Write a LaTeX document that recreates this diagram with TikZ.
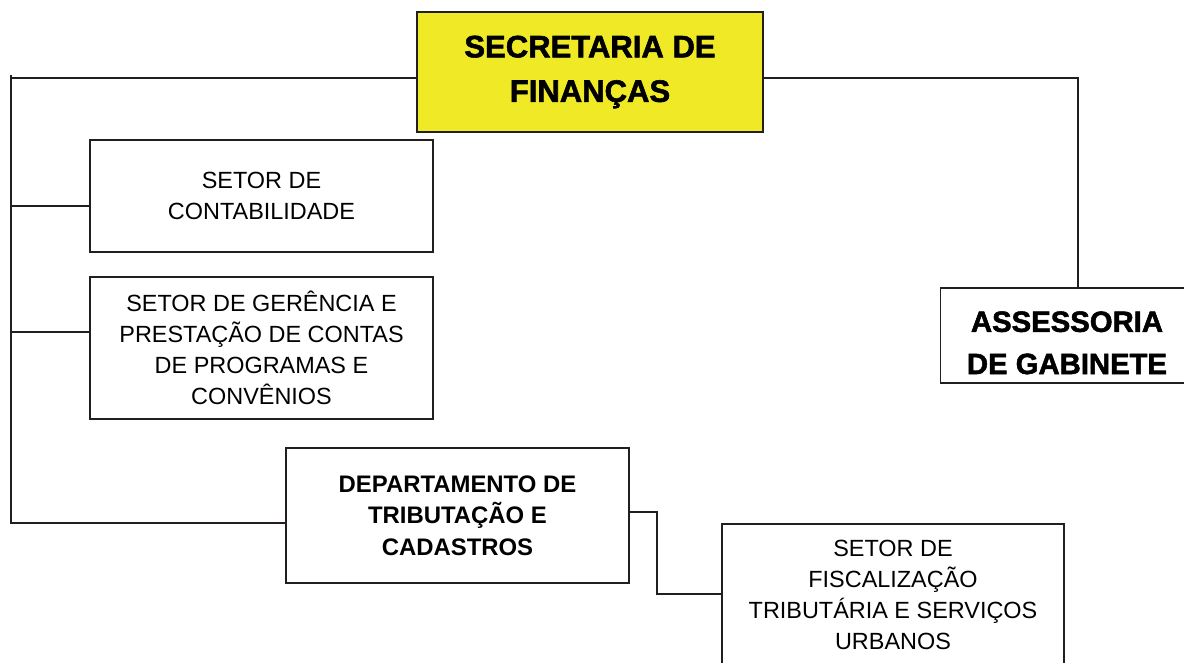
\documentclass[tikz,border=0pt]{standalone}
\usepackage{fontspec}
\setmainfont{Liberation Sans}
\newfontfamily\grossa[FakeBold=1.8]{Liberation Sans Bold}
\usetikzlibrary{positioning,calc}
\definecolor{traco}{RGB}{35,31,32}
\definecolor{amarelo}{RGB}{240,233,38}
\tikzset{
  caixa/.style={draw=traco,line width=1.3pt,align=center,inner sep=0pt,
    font=\fontsize{20}{26.5}\selectfont},
  chefe/.style={caixa,font=\fontsize{26.5}{38}\grossa},
  depto/.style={caixa,font=\fontsize{20.4}{27}\selectfont\bfseries},
  lig/.style={draw=traco,line width=1.3pt},
}

\begin{document}
\begin{tikzpicture}[x=0.03cm,y=-0.03cm]
  \clip (0,0) rectangle (1184,662);
  \fill[white] (0,0) rectangle (1184,662);
  \node[chefe,fill=amarelo,minimum width=10.38cm,minimum height=3.6cm] (sec) at (590,72)
    {SECRETARIA DE\\FINANÇAS};
  \node[caixa,minimum width=10.29cm,minimum height=3.36cm] (cont) at (261.5,196)
    {SETOR DE\\CONTABILIDADE};
  \node[caixa,minimum width=10.29cm,minimum height=4.26cm] (ger) at (261.5,348)
    {SETOR DE GERÊNCIA E\\PRESTAÇÃO DE CONTAS\\DE PROGRAMAS E\\CONVÊNIOS};
  \node[depto,minimum width=10.29cm,minimum height=4.05cm] (dep) at (457.5,515.5)
    {DEPARTAMENTO DE\\TRIBUTAÇÃO E\\CADASTROS};
  \node[chefe,font=\fontsize{25}{36}\grossa,minimum width=7.6cm,minimum height=2.85cm] (ass) at (1067,335.5)
    {\rule{0pt}{30pt}ASSESSORIA\\DE GABINETE};
  \node[caixa,minimum width=10.26cm,minimum height=4.26cm] (fisc) at (893,595)
    {SETOR DE\\FISCALIZAÇÃO\\TRIBUTÁRIA E SERVIÇOS\\URBANOS};
  \coordinate (t0) at (11,75);
  \coordinate (t1) at (11,78);
  \coordinate (t2) at (11,206);
  \coordinate (t3) at (11,332);
  \coordinate (t4) at (11,523);
  \coordinate (d1) at (1078,78);
  \coordinate (f1) at (657,512);
  \coordinate (f2) at (657,594);
  \draw[lig] (t0) -- (t4) -- (t4 -| dep.west);
  \draw[lig] (t1) -- (t1 -| sec.west);
  \draw[lig] (t2) -- (t2 -| cont.west);
  \draw[lig] (t3) -- (t3 -| ger.west);
  \draw[lig] (d1 -| sec.east) -- (d1) -- (d1 |- ass.north);
  \draw[lig] (f1 -| dep.east) -- (f1) -- (f2) -- (f2 -| fisc.west);
\end{tikzpicture}
\end{document}
